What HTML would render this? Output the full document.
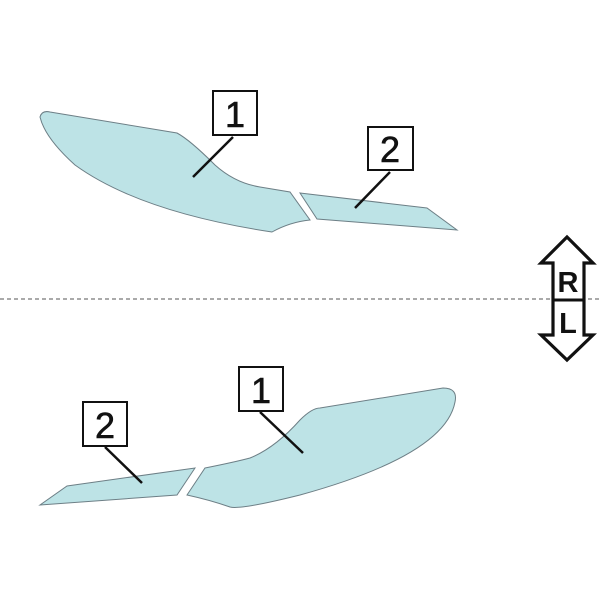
<!DOCTYPE html>
<html><head><style>body{margin:0;background:#fff}</style></head><body>
<svg width="600" height="600" viewBox="0 0 600 600" xmlns="http://www.w3.org/2000/svg" font-family="Liberation Sans, sans-serif">
<rect width="600" height="600" fill="#fff"/>
<line x1="0" y1="299" x2="600" y2="299" stroke="#555" stroke-width="1" stroke-dasharray="4,3"/>
<g fill="#bde3e6" stroke="#6d7f86" stroke-width="1">
<path d="M40,117 Q42,110 50,112 L177,133 Q190,140 215,165 Q235,183 260,187 L290,192 L310,220 Q290,222 272,232 Q140,212 75,165 Q45,138 40,117 Z"/>
<path d="M300,193 L427,208 L457,230 L317,219 Z"/>
<path d="M443,388 Q458,388 455,402 Q445,455 300,495 Q240,510 230,507 Q210,500 187,495 L205,468 Q235,462 250,458 Q275,448 300,420 Q312,408 320,408 Z"/>
<path d="M195,468 L177,495 L40,505 L67,486 Z"/>
</g>
<g stroke="#111" stroke-width="2.5" fill="none">
<line x1="233" y1="137" x2="193" y2="177"/>
<line x1="390" y1="172" x2="355" y2="208"/>
<line x1="260" y1="412" x2="303" y2="453"/>
<line x1="105" y1="447" x2="142" y2="483"/>
</g>
<g fill="#fff" stroke="#111" stroke-width="2">
<rect x="213" y="91" width="44" height="44"/>
<rect x="368" y="127" width="45" height="43"/>
<rect x="239" y="367" width="44" height="44"/>
<rect x="83" y="402" width="44" height="44"/>
</g>
<g font-size="36" text-anchor="middle" fill="#111" stroke="#111" stroke-width="0.6">
<text x="235" y="127">1</text>
<text x="390" y="162">2</text>
<text x="261" y="403">1</text>
<text x="105" y="438">2</text>
</g>
<path d="M567,237 L593,263 L584,263 L584,335 L593,335 L567,360 L541,335 L553,335 L553,263 L541,263 Z" fill="#fff" stroke="#111" stroke-width="3.2" stroke-linejoin="miter"/>
<line x1="553" y1="300" x2="584" y2="300" stroke="#111" stroke-width="3"/>
<g font-size="29" font-weight="bold" text-anchor="middle" fill="#111">
<text x="568" y="292">R</text>
<text x="568" y="333">L</text>
</g>
</svg>
</body></html>
